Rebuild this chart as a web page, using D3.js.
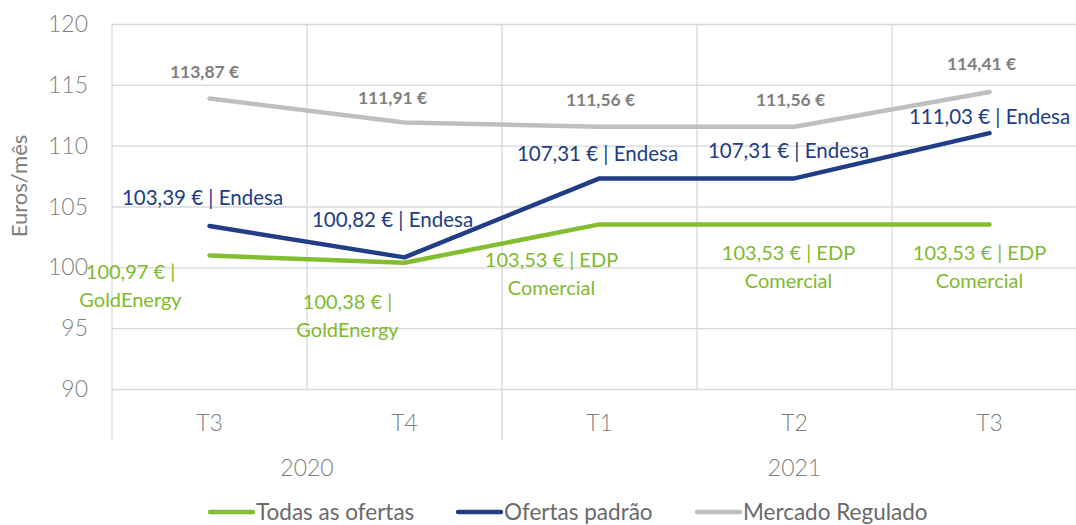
<html>
<head>
    <script src="https://d3js.org/d3.v7.min.js"></script>
    <style>
        body { margin: 0; background: #fff; }
        text { font-family: Lato, "Open Sans", sans-serif; }
        .grid line { stroke: #d9d9d9; stroke-width: 1.3; }
        .tick-label { font-size: 23px; font-weight: 300; fill: #7f7f7f; }
        .axis-title { font-size: 22px; fill: #7f7f7f; }
        .legend text { font-size: 22.5px; fill: #6a6a6a; }
    </style>
</head>
<body>
    <svg id="chart"></svg>
    <script>
        // data
        const quarters = ["T3", "T4", "T1", "T2", "T3"];
        const years = [{ label: "2020", from: 0, to: 1 }, { label: "2021", from: 2, to: 4 }];
        const yTicks = [90, 95, 100, 105, 110, 115, 120];

        const todasValues = [100.97, 100.38, 103.53, 103.53, 103.53];
        const todasSuppliers = ["GoldEnergy", "GoldEnergy", "EDP Comercial", "EDP Comercial", "EDP Comercial"];
        const padraoValues = [103.39, 100.82, 107.31, 107.31, 111.03];
        const padraoSuppliers = ["Endesa", "Endesa", "Endesa", "Endesa", "Endesa"];
        const reguladoValues = [113.87, 111.91, 111.56, 111.56, 114.41];

        // label nudges (layout only)
        const todasNudge = [[-79, 16], [-57, 39], [-48, 36], [-6, 29], [-10, 29]];
        const padraoNudge = [[-7, -28], [-12, -38], [-2, -25], [-6, -28], [0, -16]];
        const reguladoNudge = [[-5, -27], [-12, -25], [1, -27], [-4, -27], [-8, -28]];

        const fmt = v => v.toFixed(2).replace(".", ",") + " €";

        const W = 1076, H = 525;
        const plotLeft = 112, plotTop = 24, plotBottom = 389;
        const bandW = 195;

        const svg = d3.select("#chart").attr("width", W).attr("height", H);

        const x = d3.scaleBand()
            .domain(d3.range(quarters.length))
            .range([plotLeft, plotLeft + bandW * quarters.length]);
        const cx = i => x(i) + x.bandwidth() / 2;

        const y = d3.scaleLinear().domain([90, 120]).range([plotBottom, plotTop]);

        // horizontal grid
        svg.append("g")
            .attr("class", "grid")
            .attr("transform", `translate(${plotLeft},0)`)
            .call(d3.axisLeft(y).tickValues(yTicks).tickSize(-(W - plotLeft)).tickFormat(""))
            .call(g => g.select(".domain").remove());

        // vertical grid
        svg.append("g")
            .attr("class", "grid")
            .selectAll("line")
            .data(d3.range(quarters.length + 1))
            .enter()
            .append("line")
            .attr("x1", i => plotLeft + i * bandW)
            .attr("x2", i => plotLeft + i * bandW)
            .attr("y1", plotTop)
            .attr("y2", i => (i === 0 || i === 2) ? 440 : plotBottom);

        // y tick labels
        svg.append("g")
            .selectAll("text")
            .data(yTicks)
            .enter()
            .append("text")
            .attr("class", "tick-label")
            .attr("x", 88)
            .attr("y", d => y(d))
            .attr("dy", "0.35em")
            .attr("text-anchor", "end")
            .text(d => d);

        svg.append("text")
            .attr("class", "axis-title")
            .attr("text-anchor", "middle")
            .attr("transform", `translate(27, 186) rotate(-90)`)
            .text("Euros/mês");

        // x labels
        svg.append("g")
            .selectAll("text")
            .data(quarters)
            .enter()
            .append("text")
            .attr("class", "tick-label")
            .attr("x", (d, i) => cx(i))
            .attr("y", 423)
            .attr("dy", "0.35em")
            .attr("text-anchor", "middle")
            .text(d => d);

        svg.append("g")
            .selectAll("text")
            .data(years)
            .enter()
            .append("text")
            .attr("class", "tick-label")
            .attr("x", d => (x(d.from) + x(d.to) + x.bandwidth()) / 2)
            .attr("y", 468)
            .attr("dy", "0.35em")
            .attr("text-anchor", "middle")
            .text(d => d.label);

        const series = [
            { name: "Todas as ofertas", values: todasValues, color: "#84bd32" },
            { name: "Ofertas padrão", values: padraoValues, color: "#203d85" },
            { name: "Mercado Regulado", values: reguladoValues, color: "#bfbfbf" }
        ];

        const line = d3.line().x((d, i) => cx(i)).y(d => y(d));

        [series[2], series[1], series[0]].forEach(s => {
            svg.append("path")
                .datum(s.values)
                .attr("fill", "none")
                .attr("stroke", s.color)
                .attr("stroke-width", 4.5)
                .attr("stroke-linecap", "round")
                .attr("stroke-linejoin", "round")
                .attr("d", line);
        });

        // labels
        svg.append("g")
            .selectAll("text")
            .data(reguladoValues)
            .enter()
            .append("text")
            .attr("x", (d, i) => cx(i) + reguladoNudge[i][0])
            .attr("y", (d, i) => y(d) + reguladoNudge[i][1])
            .attr("dy", "0.35em")
            .attr("text-anchor", "middle")
            .attr("fill", "#7f7f7f")
            .attr("font-size", 17.5)
            .attr("font-weight", 700)
            .text(d => fmt(d));

        svg.append("g")
            .selectAll("text")
            .data(padraoValues)
            .enter()
            .append("text")
            .attr("x", (d, i) => cx(i) + padraoNudge[i][0])
            .attr("y", (d, i) => y(d) + padraoNudge[i][1])
            .attr("dy", "0.35em")
            .attr("text-anchor", "middle")
            .attr("fill", "#203d85")
            .attr("font-size", 20.5)
            .text((d, i) => `${fmt(d)} | ${padraoSuppliers[i]}`);

        const todasG = svg.append("g")
            .selectAll("text")
            .data(todasValues)
            .enter()
            .append("text")
            .attr("text-anchor", "middle")
            .attr("fill", "#7fba2c")
            .attr("font-size", 20);

        todasG.each(function(d, i) {
            const parts = todasSuppliers[i].split(" ");
            const lines = parts.length > 1
                ? [`${fmt(d)} | ${parts[0]}`, parts.slice(1).join(" ")]
                : [`${fmt(d)} |`, parts[0]];
            const tx = cx(i) + todasNudge[i][0];
            const ty = y(d) + todasNudge[i][1];
            d3.select(this).selectAll("tspan")
                .data(lines)
                .enter()
                .append("tspan")
                .attr("x", tx)
                .attr("y", (l, k) => ty + k * 28)
                .attr("dy", "0.35em")
                .text(l => l);
        });

        // legend
        const legendX = [210, 458, 697];
        const legend = svg.append("g").attr("class", "legend");
        series.forEach((s, i) => {
            const g = legend.append("g").attr("transform", `translate(${legendX[i]}, 512)`);
            g.append("line")
                .attr("x1", 0).attr("x2", 43)
                .attr("stroke", s.color)
                .attr("stroke-width", 4.5)
                .attr("stroke-linecap", "round");
            g.append("text")
                .attr("x", 46)
                .attr("dy", "0.35em")
                .text(s.name);
        });
    </script>
</body>
</html>
